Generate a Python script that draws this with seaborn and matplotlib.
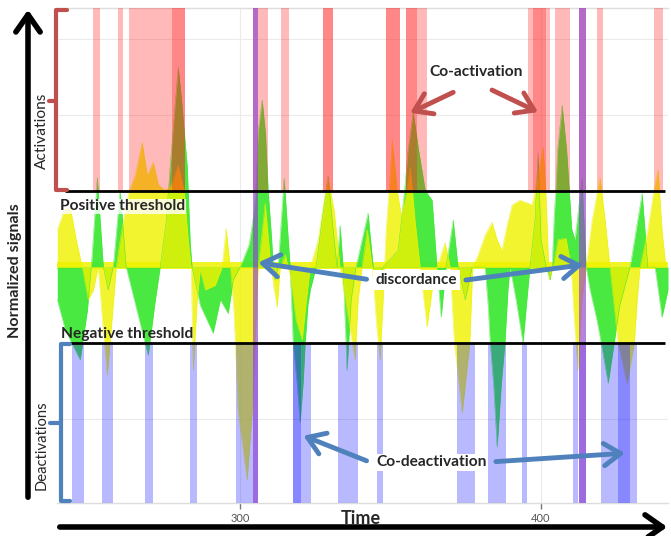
import matplotlib
matplotlib.use("Agg")
import matplotlib.pyplot as plt
import seaborn as sns
import pandas as pd
from matplotlib.patches import FancyArrowPatch
from matplotlib.lines import Line2D

# ---------------- data ----------------
green_t = [239.2, 241.9, 246.8, 249.2, 250.5, 252.5, 254.5, 256.1, 257.8, 260.1, 262.1, 264.8, 269.4, 271.8,
           273.4, 275.4, 276.7, 278.5, 279.4, 280.5, 282.4, 283.4, 284.0, 286.7, 291.0, 293.4, 296.0, 297.7,
           300.0, 303.0, 304.5, 305.3, 305.9, 307.3, 308.4, 309.3, 310.4, 311.0, 311.6, 312.6, 314.6, 316.6,
           317.6, 318.9, 319.9, 320.9, 321.6, 322.5, 323.3, 325.2, 327.2, 329.2, 330.9, 332.2, 333.2, 334.2,
           335.5, 336.9, 338.5, 340.5, 342.5, 344.2, 345.8, 347.5, 352.5, 353.8, 354.6, 355.8, 357.5, 359.3,
           361.5, 363.8, 365.4, 366.8, 368.4, 370.8, 372.4, 374.8, 377.1, 381.4, 382.4, 383.1, 384.2, 385.4,
           386.8, 388.0, 389.0, 389.7, 391.7, 394.0, 395.3, 396.3, 398.0, 399.0, 400.0, 401.7, 403.0, 403.7,
           404.4, 404.9, 405.5, 407.0, 408.5, 409.4, 410.2, 411.3, 413.6, 415.0, 416.3, 418.6, 420.0, 422.3,
           424.3, 426.2, 429.6, 431.6, 433.6, 435.5, 437.9, 440.2, 442.2]
green_v = [-0.43, -0.83, -1.22, -0.57, 0.0, 1.18, 0.0, -0.30, 0.0, 1.01, 0.0, -0.43, -1.16, -0.43,
           0.0, 0.6, 1.32, 2.2, 2.63, 2.2, 1.32, 0.3, 0.0, -0.50, -0.87, -0.43, -0.61, -0.17,
           0.0, 0.3, 0.7, 1.1, 1.76, 2.2, 1.76, 1.0, 0.4, 0.0, -0.17, 0.0, 1.17, 0.0,
           -1.0, -1.53, -2.05, -1.53, -1.0, -0.5, -0.30, 0.0, 0.62, 1.20, 0.49, 0.0, 0.55, 0.0,
           -1.36, -0.43, 0.0, 0.36, 0.71, 0.0, -0.17, 0.0, 0.22, 0.7, 1.0, 1.54, 2.04, 1.54,
           1.01, 0.88, 0.0, -0.66, 0.0, 0.62, 0.0, -0.43, 0.0, 0.0, -0.5, -1.0, -1.53, -2.37,
           -1.53, -1.0, -0.3, 0.0, -0.43, -1.00, -0.43, 0.0, 0.62, 1.50, 0.36, 0.0, -0.17, 0.0,
           0.7, 1.0, 1.54, 2.13, 1.54, 1.0, 0.5, 0.36, 1.17, 0.0, -0.30, -0.7, -1.0, -1.53,
           -1.0, -0.5, 0.0, 0.49, 0.97, 0.0, 0.0, -0.66, -0.30]

yellow_t = [239.2, 241.5, 243.5, 245.5, 247.5, 249.5, 251.2, 252.8, 254.5, 255.8, 257.1, 258.8, 260.1, 261.8,
            263.1, 265.1, 267.4, 269.1, 271.1, 272.8, 275.1, 277.1, 279.4, 281.4, 282.7, 283.7, 284.4, 285.7,
            286.7, 288.4, 291.7, 294.0, 295.3, 296.7, 297.8, 298.4, 299.3, 302.3, 304.0, 305.0, 305.6, 306.0,
            308.3, 310.0, 311.3, 312.3, 313.3, 315.0, 316.6, 318.6, 320.6, 322.0, 323.3, 325.9, 327.9, 329.2,
            331.2, 333.2, 335.5, 338.2, 339.2, 340.5, 342.2, 343.9, 345.5, 346.5, 347.5, 348.5, 349.5, 350.5,
            352.2, 353.5, 355.1, 356.5, 358.1, 359.8, 362.1, 363.8, 365.4, 368.1, 369.8, 371.2, 373.8, 376.3,
            377.3, 379.1, 381.4, 383.7, 385.4, 387.0, 388.7, 390.4, 393.0, 397.0, 399.0, 400.7, 401.7, 402.7,
            404.0, 405.6, 408.3, 410.0, 411.3, 412.3, 413.6, 415.0, 417.0, 419.6, 421.3, 422.9, 425.6, 428.6,
            431.0, 432.0, 432.9, 435.5, 437.5, 438.9, 440.2, 441.5]
yellow_v = [0.49, 0.75, 0.79, 0.36, 0.0, -0.43, -0.30, 0.0, -0.83, -1.42, -0.83, 0.0, 0.36, 0.75,
            1.00, 1.21, 1.64, 1.21, 1.38, 1.08, 1.01, 1.08, 1.34, 1.00, 0.36, 0.0, -1.36, -0.43,
            -0.04, -0.30, -0.24, 0.0, 0.51, 0.0, -0.5, -1.0, -1.9, -2.8, -1.9, -1.0, -0.3, 0.0,
            0.84, 0.09, -0.30, -0.53, 0.0, 0.16, -0.11, -0.70, -0.96, -0.43, 0.0, 0.36, 0.88, 1.17,
            0.75, 0.0, -0.57, -1.22, -0.43, 0.0, 0.49, 0.0, -0.83, -1.22, -0.43, 0.49, 1.01, 1.67,
            1.01, 0.68, 0.95, 1.32, 0.62, 0.0, -0.79, -0.30, 0.0, 0.32, 0.0, -1.0, -1.92, -1.0,
            0.0, 0.16, 0.42, 0.59, 0.36, 0.22, 0.55, 0.82, 0.88, 0.82, 1.21, 1.58, 0.88, -0.17,
            0.0, 0.36, 0.38, 0.0, -0.83, -1.36, -0.43, 0.0, 0.62, 1.18, 0.62, 0.0, -1.0, -1.53,
            -1.0, -0.4, 0.0, 0.49, 1.01, 1.28, 0.49, 0.0]

activation_spans = [(251.2, 253.5), (259.5, 261.1), (263.1, 277.4), (306.0, 309.3), (313.6, 316.3),
                    (358.8, 362.1), (395.7, 397.3), (401.7, 403.0), (404.7, 409.6), (418.6, 420.6),
                    (437.5, 440.5)]
coactivation_spans = [(277.4, 281.7), (327.6, 330.9), (348.5, 353.2), (355.1, 358.8), (397.3, 401.7)]
deactivation_spans = [(244.2, 248.2), (254.2, 257.8), (268.4, 271.1), (283.4, 285.7), (298.7, 304.3),
                      (320.3, 323.6), (332.6, 339.2), (345.5, 347.5), (372.1, 378.1), (382.4, 388.4),
                      (393.7, 395.3), (410.6, 412.3), (419.9, 425.6), (429.6, 431.9)]
codeactivation_spans = [(317.6, 320.3), (425.6, 429.6)]
discordance_spans = [(304.3, 306.0), (412.6, 414.9)]

x_ticks = [300, 400]
x_tick_labels = ["300", "400"]
grid_levels = [-2, 2, 3]
threshold = 1.0

# ---------------- figure ----------------
sns.set_theme(style="white")
plt.rcParams['font.family'] = ['Lato', 'DejaVu Sans']

W, H = 671, 536
fig = plt.figure(figsize=(W / 100, H / 100), dpi=100)
ax = fig.add_axes([57 / W, 1 - 503 / H, 611 / W, 495 / H])
XMIN, XMAX = 239.1, 442.2
YMIN, YMAX = -3.105, 3.41

GREEN = '#40e838'
YELLOW = '#eef200'
RED = '#ff1a1a'
BLUE = '#1a1aff'
PURPLE = '#9040d0'

for g in grid_levels:
    ax.axhline(g, color='#ebebeb', lw=0.8, zorder=0)
for xt in x_ticks:
    ax.axvline(xt, color='#ebebeb', lw=0.8, zorder=0)

# baseline strip
ax.axhspan(-0.03, 0.07, color=YELLOW, alpha=0.85, lw=0, zorder=1)

df = pd.concat([
    pd.DataFrame({'t': green_t, 'v': green_v, 'signal': 'green'}),
    pd.DataFrame({'t': yellow_t, 'v': yellow_v, 'signal': 'yellow'}),
])
ax.fill_between(green_t, 0, green_v, color=GREEN, alpha=0.95, lw=0, zorder=2)
ax.fill_between(yellow_t, 0, yellow_v, color=YELLOW, alpha=0.82, lw=0, zorder=3)
sns.lineplot(data=df, x='t', y='v', hue='signal', palette={'green': GREEN, 'yellow': YELLOW},
             lw=0.3, legend=False, ax=ax, zorder=3, estimator=None, sort=False)

for a, b in activation_spans + discordance_spans:
    ax.fill_between([a, b], threshold, YMAX, color=RED, alpha=0.3, lw=0, zorder=4)
for a, b in coactivation_spans:
    ax.fill_between([a, b], threshold, YMAX, color=RED, alpha=0.52, lw=0, zorder=4)
for a, b in deactivation_spans + discordance_spans:
    ax.fill_between([a, b], YMIN, -threshold, color=BLUE, alpha=0.3, lw=0, zorder=4)
for a, b in codeactivation_spans:
    ax.fill_between([a, b], YMIN, -threshold, color=BLUE, alpha=0.52, lw=0, zorder=4)
for a, b in discordance_spans:
    ax.axvspan(a, b, color=PURPLE, alpha=0.65, lw=0, zorder=5)

ax.hlines([threshold, -threshold], 241.9, 441.2, color='black', lw=2, zorder=6)

ax.set_xlim(XMIN, XMAX)
ax.set_ylim(YMIN, YMAX)
ax.set_xticks(x_ticks)
ax.set_xticklabels(x_tick_labels)
ax.set_yticks([])
ax.set_xlabel('')
ax.set_ylabel('')
ax.tick_params(axis='x', direction='out', length=4, width=1, color='#777777',
               labelsize=8, labelcolor='#555555', pad=3, bottom=True)
for s in ['left', 'right']:
    ax.spines[s].set_visible(False)
for s in ['top', 'bottom']:
    ax.spines[s].set_color('#dddddd')
    ax.spines[s].set_linewidth(1)

# texts in data coords
ax.text(240.2, 0.80, 'Positive threshold', fontsize=11.2, fontweight='bold', ha='left', va='center',
        zorder=8, bbox=dict(facecolor='white', edgecolor='none', pad=0.5, alpha=0.8))
ax.text(240.5, -0.88, 'Negative threshold', fontsize=11.2, fontweight='bold', ha='left', va='center', zorder=8)
ax.text(378.4, 2.57, 'Co-activation', fontsize=11.2, fontweight='bold', ha='center', va='center', zorder=8)
ax.text(358.5, -0.17, 'discordance', fontsize=11, fontweight='bold', ha='center', va='center', zorder=8,
        bbox=dict(facecolor='white', edgecolor='none', pad=2))
ax.text(363.5, -2.57, 'Co-deactivation', fontsize=11.2, fontweight='bold', ha='center', va='center', zorder=8,
        bbox=dict(facecolor='white', edgecolor='none', pad=1))

RA = '#c0504d'
BA = '#4f81bd'
astyle = "->,head_length=0.6,head_width=0.4"
def arrow(xy_from, xy_to, color):
    ax.annotate('', xy=xy_to, xytext=xy_from, zorder=9,
                arrowprops=dict(arrowstyle=astyle, color=color, lw=3.5, mutation_scale=20,
                                shrinkA=0, shrinkB=0))

arrow((370.8, 2.30), (356.5, 2.03), RA)
arrow((383.7, 2.33), (399.0, 2.04), RA)
arrow((342.0, -0.16), (306.0, 0.06), BA)
arrow((375.0, -0.17), (414.0, 0.03), BA)
arrow((342.0, -2.55), (321.0, -2.22), BA)
arrow((385.0, -2.56), (427.9, -2.45), BA)

# figure-level decorations (pixel positions)
def fp(x, y):
    return (x / W, 1 - y / H)

def poly(points, color, lw):
    xs = [fp(x, y)[0] for x, y in points]
    ys = [fp(x, y)[1] for x, y in points]
    fig.add_artist(Line2D(xs, ys, color=color, lw=lw, transform=fig.transFigure,
                          solid_joinstyle='round', solid_capstyle='round'))

poly([(67, 10), (56, 10), (56, 190), (67, 190)], RA, 3)
poly([(56, 101), (49, 101)], RA, 3)
poly([(70, 344), (61, 344), (61, 501), (70, 501)], BA, 3)
poly([(61, 423), (50, 423)], BA, 3)

fig.add_artist(FancyArrowPatch(fp(28, 500), fp(28, 7), transform=fig.transFigure,
                               arrowstyle="->,head_length=0.5,head_width=0.35", mutation_scale=25,
                               color='black', lw=4))
fig.add_artist(FancyArrowPatch(fp(57, 527), fp(670, 527), transform=fig.transFigure,
                               arrowstyle="->,head_length=0.5,head_width=0.35", mutation_scale=25,
                               color='black', lw=4))

fig.text(*fp(15, 271), 'Normalized signals', rotation=90, fontsize=11.6, fontweight='bold',
         ha='center', va='center')
fig.text(*fp(42, 131), 'Activations', rotation=90, fontsize=11.2, ha='center', va='center')
fig.text(*fp(42, 445), 'Deactivations', rotation=90, fontsize=10.6, ha='center', va='center')
fig.text(*fp(361, 518), 'Time', fontsize=13, fontweight='bold', ha='center', va='center')

fig.savefig('out.png', dpi=100)
